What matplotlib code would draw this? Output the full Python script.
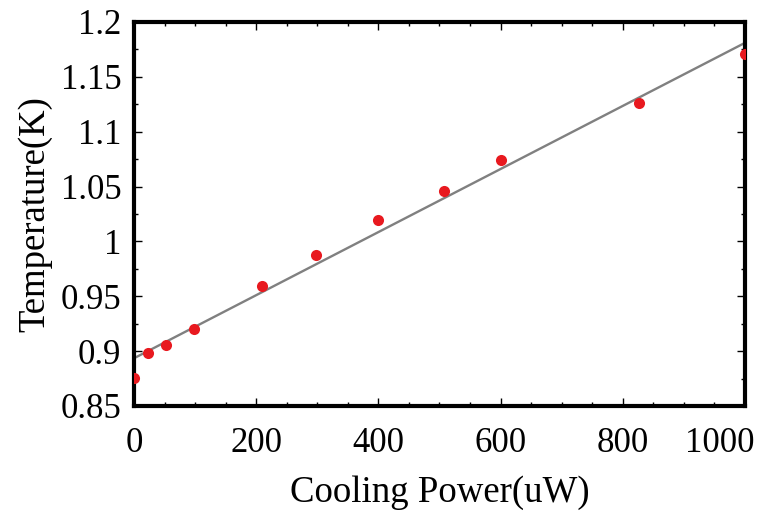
import matplotlib
matplotlib.use('Agg')
import matplotlib.pyplot as plt
import matplotlib.transforms as mtransforms
from matplotlib.ticker import MultipleLocator

# Medidas: potencia de enfriamiento (uW) y temperatura (K)
potencia = [0, 23, 53, 98, 210, 298, 400, 507, 600, 826, 1000]
temperatura = [0.8755, 0.8985, 0.9055, 0.920, 0.9595, 0.9875, 1.0195, 1.046, 1.074, 1.1265, 1.1705]

# Recta de ajuste (extremos)
ajuste_x = [0, 1000]
ajuste_y = [0.8935, 1.181]

plt.rcParams['font.family'] = ['Liberation Serif', 'DejaVu Serif']

fig = plt.figure(figsize=(7.63, 5.11), dpi=100)
ax = fig.add_axes([0.1756, 0.2055, 0.8008, 0.7515])

ax.plot(ajuste_x, ajuste_y, color='#808080', linewidth=1.7, zorder=2)
ax.plot(potencia, temperatura, linestyle='none', marker='o', markersize=8,
        color='#e8191f', markeredgewidth=0, zorder=3)

ax.set_xlim(0, 1000)
ax.set_ylim(0.85, 1.2)
ax.xaxis.set_major_locator(MultipleLocator(200))
ax.xaxis.set_minor_locator(MultipleLocator(50))
ax.yaxis.set_minor_locator(MultipleLocator(0.025))

ax.set_yticks([0.85, 0.9, 0.95, 1.0, 1.05, 1.1, 1.15, 1.2])
ax.set_yticklabels(['0.85', '0.9', '0.95', '1', '1.05', '1.1', '1.15', '1.2'])

ax.tick_params(which='both', direction='in', top=True, right=True, width=1.0,
               labelsize=25, colors='black')
ax.tick_params(which='major', length=6)
ax.tick_params(which='minor', length=3)
ax.tick_params(axis='x', pad=15)
ax.tick_params(axis='y', pad=9)

for s in ax.spines.values():
    s.set_linewidth(3.0)

ax.set_xlabel('Cooling Power(uW)', fontsize=26.5, labelpad=11)
ax.set_ylabel('Temperature(K)', fontsize=26.5, labelpad=6)

# Mover la etiqueta 1000 a la izquierda para que quepa
fig.canvas.draw()
for lbl in ax.get_xticklabels():
    if lbl.get_text() == '1000':
        lbl.set_transform(lbl.get_transform() +
                          mtransforms.ScaledTranslation(-0.25, 0, fig.dpi_scale_trans))

fig.savefig('out.png', dpi=100)
